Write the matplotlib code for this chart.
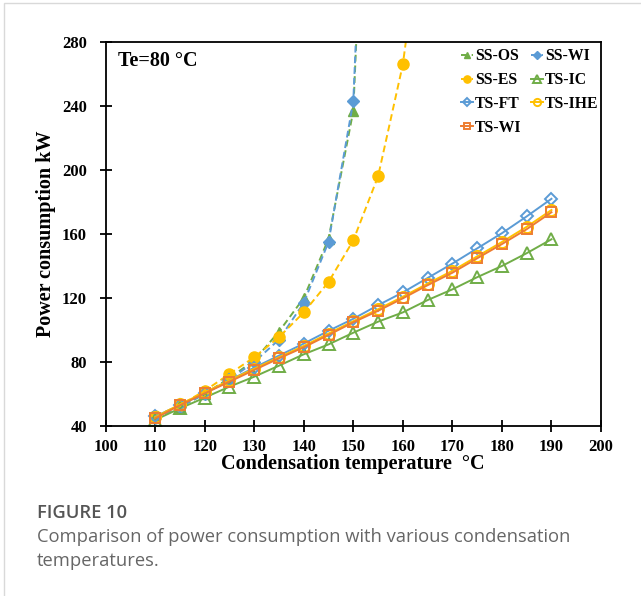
import matplotlib
matplotlib.use("Agg")
import matplotlib.pyplot as plt
from matplotlib.patches import Rectangle

# ---- data ----
x_ss_os = [110, 115, 120, 125, 130, 135, 140, 145, 150, 155]
ss_os = [45, 52, 60, 70, 81, 99, 120, 157, 237, 600]

x_ss_wi = [110, 115, 120, 125, 130, 135, 140, 145, 150, 155]
ss_wi = [45, 52, 60, 69, 80, 94, 117, 155, 243, 610]

x_ss_es = [110, 115, 120, 125, 130, 135, 140, 145, 150, 155, 160, 165]
ss_es = [46, 53, 62, 72.5, 83, 95.5, 111, 130, 156, 196, 266, 383]

x_ts = [110, 115, 120, 125, 130, 135, 140, 145, 150, 155, 160, 165, 170, 175, 180, 185, 190]
ts_ic = [43.8, 51, 57.7, 64.6, 70.8, 77.7, 84.8, 91, 98.3, 105.2, 111, 118.7, 125.4, 133, 140, 148, 156.7]
ts_ft = [46, 53, 60.5, 68.5, 76.5, 84, 91.5, 99.5, 107, 115.5, 123.5, 132.5, 141.5, 151, 160.5, 171, 182]
ts_ihe = [45.5, 53.5, 61, 68.5, 75.8, 83, 90, 97.8, 105.5, 113, 120.8, 129, 137, 146, 155, 164.5, 175]
ts_wi = [44.8, 53, 60.4, 67.7, 75, 82.3, 89.2, 96.9, 104.8, 112, 119.8, 128, 135.8, 144.8, 153.7, 163, 173.6]

xticks = list(range(100, 201, 10))
yticks = list(range(40, 281, 40))

GREEN = "#70AD47"
BLUE = "#5B9BD5"
YELLOW = "#FFC000"
ORANGE = "#ED7D31"

W, H = 641, 596
fig = plt.figure(figsize=(W / 100, H / 100), dpi=100)

# card border
fig.patches.append(Rectangle((4 / W, -0.01), 1.2, 1 - 3 / H + 0.01, transform=fig.transFigure,
                             fill=False, edgecolor="#d9d9d9", linewidth=1.0))

ax = fig.add_axes([105.6 / W, 1 - 426 / H, (601 - 105.6) / W, (426 - 42) / H])

serif = "Liberation Serif"
lw = 1.4
ms = 7
dash = (3.5, 2)

ax.plot(x_ss_os, ss_os, ls=(0, dash), color=GREEN, lw=lw, marker="^", ms=ms, mfc=GREEN, mec=GREEN, label="SS-OS")
ax.plot(x_ss_wi, ss_wi, ls=(0, dash), color=BLUE, lw=lw, marker="D", ms=ms - 1, mfc=BLUE, mec=BLUE, label="SS-WI")
ax.plot(x_ss_es, ss_es, ls=(0, dash), color=YELLOW, lw=lw, marker="o", ms=ms + 1, mfc=YELLOW, mec=YELLOW, label="SS-ES")
ax.plot(x_ts, ts_ic, ls="-", color=GREEN, lw=lw, marker="^", ms=ms + 1, mfc="none", mec=GREEN, mew=1.4, label="TS-IC")
ax.plot(x_ts, ts_ft, ls="-", color=BLUE, lw=lw, marker="D", ms=ms - 0.5, mfc="none", mec=BLUE, mew=1.4, label="TS-FT")
ax.plot(x_ts, ts_ihe, ls="-", color=YELLOW, lw=lw, marker="o", ms=ms + 1, mfc="none", mec=YELLOW, mew=1.4, label="TS-IHE")
ax.plot(x_ts, ts_wi, ls="-", color=ORANGE, lw=lw, marker="s", ms=ms, mfc="none", mec=ORANGE, mew=1.4, label="TS-WI")

ax.set_xlim(100, 200)
ax.set_ylim(40, 280)
ax.set_xticks(xticks)
ax.set_yticks(yticks)
ax.set_xticklabels([str(v) for v in xticks], fontfamily=serif, fontweight="bold", fontsize=12)
ax.set_yticklabels([str(v) for v in yticks], fontfamily=serif, fontweight="bold", fontsize=12)
ax.tick_params(direction="inout", length=9, width=1.3)
ax.tick_params(axis="x", pad=5)
ax.tick_params(axis="y", pad=9)
for s in ax.spines.values():
    s.set_linewidth(1.3)

ax.set_xlabel("Condensation temperature  \u00b0C", fontfamily=serif, fontweight="bold", fontsize=14.5, labelpad=-1)
ax.set_ylabel("Power consumption kW", fontfamily=serif, fontweight="bold", fontsize=14.5, labelpad=4)

ax.text(0.025, 0.95, "Te=80 \u00b0C", transform=ax.transAxes, fontfamily=serif, fontweight="bold",
        fontsize=14.5, va="center", ha="left")

handles, labels = ax.get_legend_handles_labels()
order = ["SS-OS", "SS-ES", "TS-FT", "TS-WI", "SS-WI", "TS-IC", "TS-IHE"]
hmap = dict(zip(labels, handles))
leg = ax.legend([hmap[k] for k in order], order, ncol=2, loc="upper right",
                bbox_to_anchor=(1.0, 0.99), frameon=False, borderaxespad=0.0, borderpad=0.15,
                prop={"family": serif, "weight": "bold", "size": 11.3},
                handlelength=0.75, handletextpad=0.15, columnspacing=0.6, labelspacing=0.5,
                markerscale=0.65)

fig.text(37 / W, 1 - 513 / H, "FIGURE 10", fontfamily="Open Sans", fontweight="semibold",
         fontsize=13.2, color="#555555", va="center", ha="left")
fig.text(37 / W, 1 - 537 / H, "Comparison of power consumption with various condensation",
         fontfamily="Open Sans", fontsize=13.2, color="#666666", va="center", ha="left")
fig.text(37 / W, 1 - 561 / H, "temperatures.",
         fontfamily="Open Sans", fontsize=13.2, color="#666666", va="center", ha="left")

fig.savefig("out.png", dpi=100)
